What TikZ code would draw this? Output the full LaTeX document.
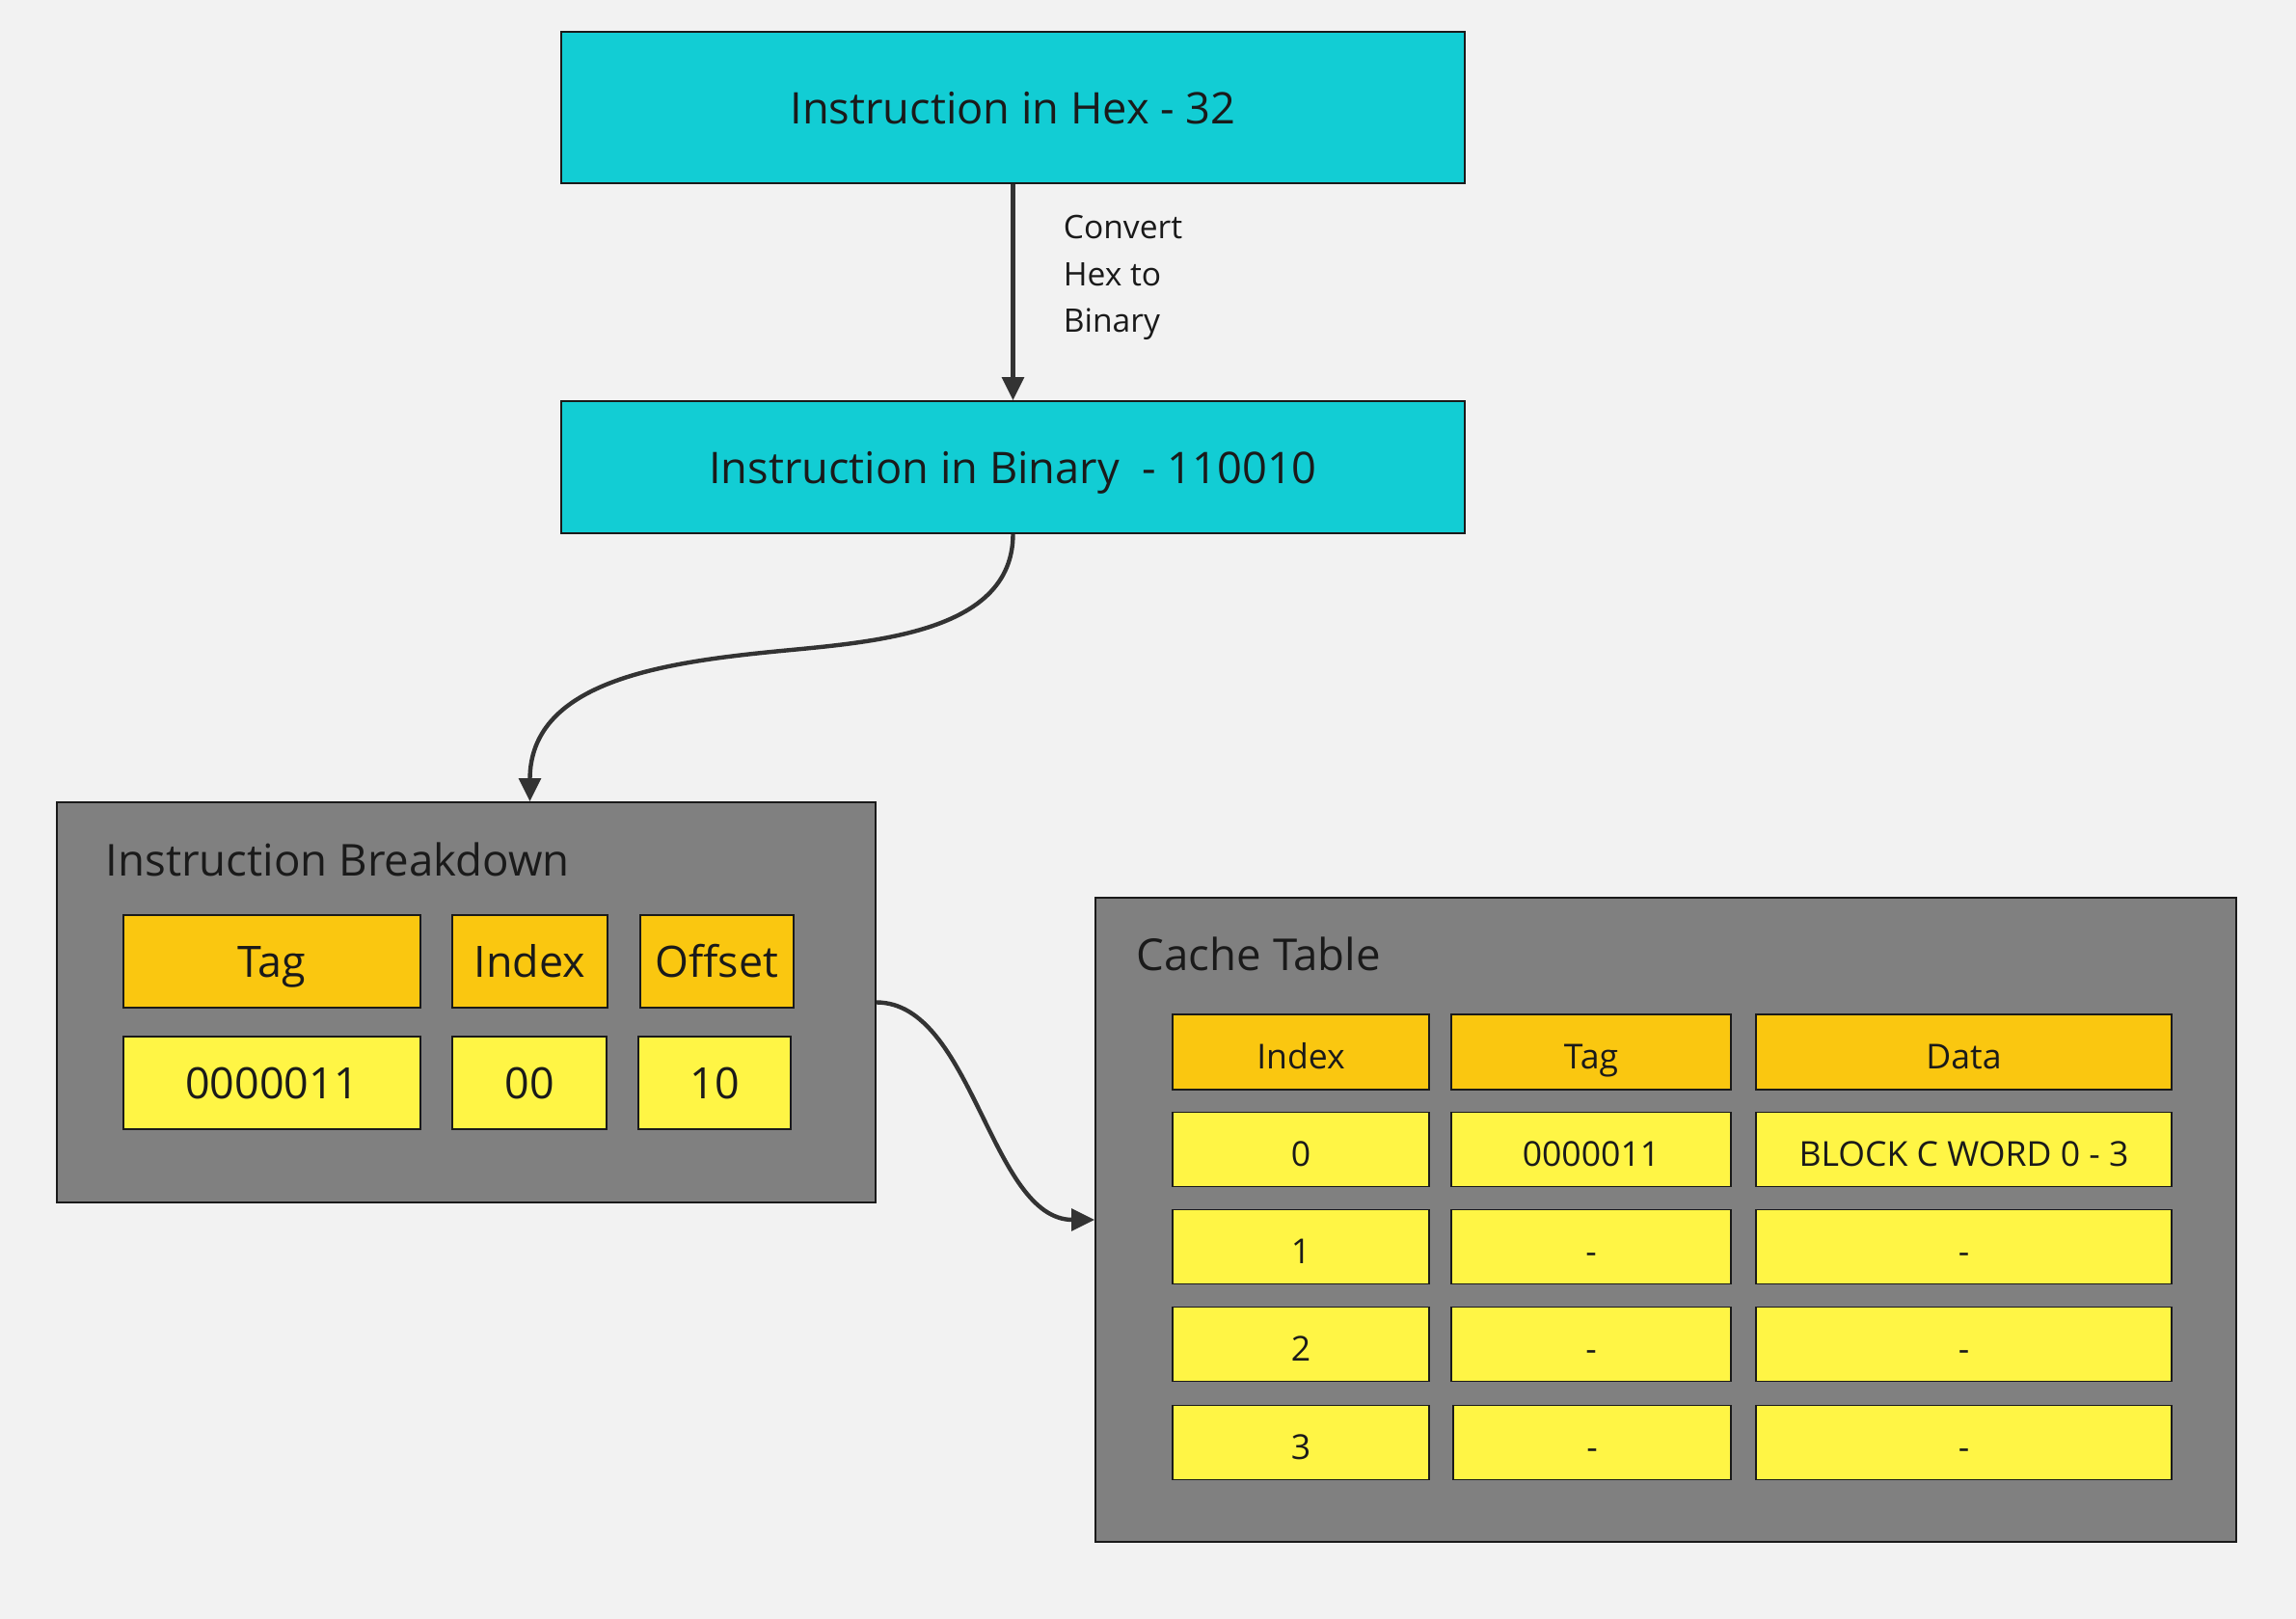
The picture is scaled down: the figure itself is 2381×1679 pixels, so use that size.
\documentclass[tikz,border=0pt]{standalone}
\usepackage{fontspec}
\setmainfont{Open Sans}
\usetikzlibrary{arrows.meta,calc}
\definecolor{bg}{HTML}{F2F2F2}
\definecolor{cyanbox}{HTML}{12CDD4}
\definecolor{panel}{HTML}{808080}
\definecolor{hdr}{HTML}{FAC710}
\definecolor{cell}{HTML}{FFF545}
\definecolor{ink}{HTML}{1A1A1A}
\definecolor{wire}{HTML}{333333}
\tikzset{
  base/.style={draw=ink, line width=0.4pt, inner sep=0pt, text=ink, align=center, text height=0.85em, text depth=0pt},
  topbox/.style={base, fill=cyanbox, font=\fontsize{11.3}{13}\selectfont},
  panelbox/.style={base, fill=panel},
  hdrbig/.style={base, fill=hdr, minimum height=24pt, font=\fontsize{11.2}{13}\selectfont},
  cellbig/.style={base, fill=cell, minimum height=24pt, font=\fontsize{11.2}{13}\selectfont},
  hdrsmall/.style={base, fill=hdr, minimum height=19.5pt, font=\fontsize{8.9}{10}\selectfont},
  cellsmall/.style={base, fill=cell, minimum height=19.25pt, font=\fontsize{8.9}{10}\selectfont},
  paneltitle/.style={anchor=west, inner sep=0pt, text=ink, font=\fontsize{11.4}{13}\selectfont},
  lbl/.style={anchor=west, inner sep=0pt, text=ink, align=left, font=\fontsize{8.4}{12.2}\selectfont},
  conn/.style={draw=wire, line width=1.1pt, -{Triangle[length=6pt,width=5.6pt]}}
}
\begin{document}
\begin{tikzpicture}[x=0.25pt,y=-0.25pt]
\fill[bg] (0,0) rectangle (2381,1679);

% top boxes
\node[topbox, minimum width=234.25pt, minimum height=39.25pt] (hex) at (1050.5,111.5) {Instruction in Hex - 32};
\node[topbox, minimum width=234.25pt, minimum height=34.25pt] (bin) at (1050.5,484.5) {Instruction in Binary~ - 110010};

% breakdown panel
\node[panelbox, minimum width=212.25pt, minimum height=103.75pt] (bd) at (483.5,1039.5) {};
\node[paneltitle] (bdtitle) at (109,891) {Instruction Breakdown};
\node[hdrbig, minimum width=77pt] (tagh) at (282,997) {Tag};
\node[hdrbig, minimum width=40.25pt] (idxh) at (549.5,997) {Index};
\node[hdrbig, minimum width=39.75pt] (offh) at (743.5,997) {Offset};
\node[cellbig, minimum width=77pt] (tagv) at (282,1123) {0000011};
\node[cellbig, minimum width=40pt] (idxv) at (549,1123) {00};
\node[cellbig, minimum width=39.5pt] (offv) at (741,1123) {10};

% cache panel
\node[panelbox, minimum width=295.75pt, minimum height=167pt] (cache) at (1727.5,1265) {};
\node[paneltitle] (ctitle) at (1178,989) {Cache Table};
\node[hdrsmall, minimum width=66.5pt] (ci) at (1349,1091) {Index};
\node[hdrsmall, minimum width=72.5pt] (ct) at (1650,1091) {Tag};
\node[hdrsmall, minimum width=107.75pt] (cd) at (2036.5,1091) {Data};
\node[cellsmall, minimum width=66.5pt] (i0) at (1349,1192) {0};
\node[cellsmall, minimum width=72.5pt] (t0) at (1650,1192) {0000011};
\node[cellsmall, minimum width=107.75pt] (d0) at (2036.5,1192) {BLOCK C WORD 0 - 3};
\node[cellsmall, minimum width=66.5pt] (i1) at (1349,1293) {1};
\node[cellsmall, minimum width=72.5pt] (t1) at (1650,1293) {-};
\node[cellsmall, minimum width=107.75pt] (d1) at (2036.5,1293) {-};
\node[cellsmall, minimum width=66.5pt] (i2) at (1349,1394) {2};
\node[cellsmall, minimum width=72.5pt] (t2) at (1650,1394) {-};
\node[cellsmall, minimum width=107.75pt] (d2) at (2036.5,1394) {-};
\node[cellsmall, minimum width=66.5pt] (i3) at (1349,1496) {3};
\node[cellsmall, minimum width=72pt] (t3) at (1651,1496) {-};
\node[cellsmall, minimum width=107.75pt] (d3) at (2036.5,1496) {-};

% connectors
\draw[conn] (hex.south) -- (bin.north);
\node[lbl] (convlbl) at (1102,288) {Convert\\Hex to\\Binary};
\coordinate (mid) at (800,676);
\draw[conn] (bin.south) .. controls ($(bin.south)+(0,105)$) and (900,666) .. (mid)
  .. controls (680,688) and ($(bd.north -| idxh)+(0,-122)$) .. (bd.north -| idxh);
\draw[conn] (bd.east) .. controls ($(bd.east)+(100,0)$) and ($(cache.west)+(-108,0)$) .. (cache.west);
\end{tikzpicture}
\end{document}
